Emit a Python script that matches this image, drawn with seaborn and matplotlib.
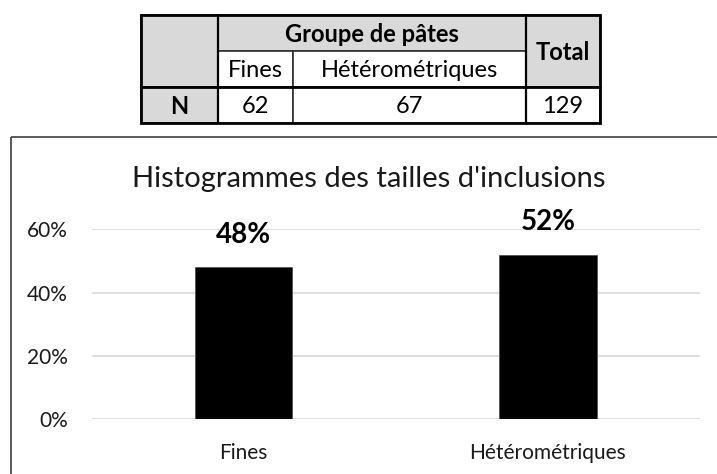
import matplotlib
matplotlib.use("Agg")
import matplotlib.pyplot as plt
from matplotlib.patches import Rectangle
from matplotlib.ticker import PercentFormatter
import seaborn as sns
import pandas as pd

# Data
categories = ["Fines", "Hétérométriques"]
shares = [0.48, 0.52]
counts = [62, 67]
total = 129
title = "Histogrammes des tailles d'inclusions"
group_header = "Groupe de pâtes"

W, H = 717, 474
sns.set_theme(style="white")
plt.rcParams["font.family"] = ["Lato", "DejaVu Sans"]

fig = plt.figure(figsize=(W / 100, H / 100), dpi=100)

# Overlay in pixel coordinates for the frame and the counts table
ov = fig.add_axes([0, 0, 1, 1], zorder=0)
ov.set_xlim(0, W)
ov.set_ylim(H, 0)
ov.axis("off")

# Chart frame (runs past the right and bottom edges)
ov.add_patch(Rectangle((11, 137), 740, 360, fill=False, edgecolor="#404040", lw=1.2))

# Counts table
grey = "#d9d9d9"
xs = [141, 218, 293, 526, 600]
ys = [15, 51, 87, 123]
cells = [
    # (x0, y0, x1, y1, fill)
    (xs[0], ys[0], xs[1], ys[2], grey),
    (xs[1], ys[0], xs[3], ys[1], grey),
    (xs[3], ys[0], xs[4], ys[2], grey),
    (xs[1], ys[1], xs[2], ys[2], "white"),
    (xs[2], ys[1], xs[3], ys[2], "white"),
    (xs[0], ys[2], xs[1], ys[3], grey),
    (xs[1], ys[2], xs[2], ys[3], "white"),
    (xs[2], ys[2], xs[3], ys[3], "white"),
    (xs[3], ys[2], xs[4], ys[3], "white"),
]
for x0, y0, x1, y1, fc in cells:
    ov.add_patch(Rectangle((x0, y0), x1 - x0, y1 - y0, facecolor=fc,
                           edgecolor="#303030", lw=1.2))
ov.add_patch(Rectangle((xs[0], ys[0]), xs[4] - xs[0], ys[3] - ys[0],
                       fill=False, edgecolor="black", lw=2))
ov.plot([xs[0], xs[4]], [ys[2], ys[2]], color="black", lw=2)
ov.plot([xs[1], xs[1]], [ys[0], ys[3]], color="black", lw=1.6)
ov.plot([xs[3], xs[3]], [ys[0], ys[3]], color="black", lw=1.6)

tfs = 17
def cell_text(x0, x1, y0, y1, s, bold=False):
    ov.text((x0 + x1) / 2, (y0 + y1) / 2 + 1, s, ha="center", va="center",
            fontsize=tfs, fontweight="bold" if bold else "normal", color="black")

cell_text(xs[1], xs[3], ys[0], ys[1], group_header, bold=True)
cell_text(xs[3], xs[4], ys[0], ys[2], "Total", bold=True)
cell_text(xs[1], xs[2], ys[1], ys[2], categories[0])
cell_text(xs[2], xs[3], ys[1], ys[2], categories[1])
cell_text(xs[0], xs[1], ys[2], ys[3], "N", bold=True)
cell_text(xs[1], xs[2], ys[2], ys[3], str(counts[0]))
cell_text(xs[2], xs[3], ys[2], ys[3], str(counts[1]))
cell_text(xs[3], xs[4], ys[2], ys[3], str(total))

# Bar chart
left, right, y0, y60 = 91.7, 700, 419.3, 229.3
ax = fig.add_axes([left / W, (H - y0) / H, (right - left) / W, (y0 - y60) / H], zorder=1)
ax.patch.set_alpha(0)
df = pd.DataFrame({"groupe": categories, "part": shares})
sns.barplot(data=df, x="groupe", y="part", color="black", width=0.32,
            saturation=1, edgecolor="#555555", linewidth=0.6, ax=ax, zorder=3)
ax.set_ylim(0, 0.6)
ax.set_xlim(-0.5, 1.5)
ax.set_yticks([0, 0.2, 0.4, 0.6])
ax.yaxis.set_major_formatter(PercentFormatter(1.0, decimals=0))
ax.grid(axis="y", color="#d9d9d9", lw=1.2, zorder=0)
ax.grid(axis="x", visible=False)
for s in ax.spines.values():
    s.set_visible(False)
ax.tick_params(axis="y", length=0, pad=17, labelsize=15, labelcolor="#1a1a1a")
ax.tick_params(axis="x", length=0, pad=17, labelsize=15, labelcolor="#1a1a1a")
ax.set_xlabel("")
ax.set_ylabel("")

for i, v in enumerate(shares):
    ax.annotate(f"{v:.0%}", (i, v), xytext=(0, 14), textcoords="offset points",
                ha="center", va="bottom", fontsize=20, fontweight="bold",
                color="black", annotation_clip=False)

fig.text(369 / W, 1 - 187 / H, title, ha="center", va="baseline",
         fontsize=21, color="#1a1a1a")

fig.savefig("out.png", dpi=100)
